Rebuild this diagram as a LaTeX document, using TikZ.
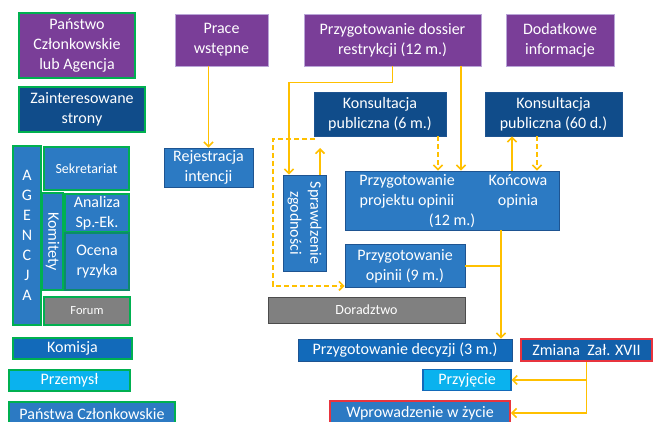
\documentclass[tikz,border=0pt]{standalone}
\usepackage{fontspec}
\setmainfont{Carlito}
\usetikzlibrary{arrows.meta}
\definecolor{purp}{RGB}{122,62,152}
\definecolor{purpb}{RGB}{185,165,215}
\definecolor{navy}{RGB}{16,76,138}
\definecolor{midb}{RGB}{44,122,195}
\definecolor{midbb}{RGB}{30,84,145}
\definecolor{komb}{RGB}{18,106,186}
\definecolor{cyanb}{RGB}{10,178,238}
\definecolor{grayb}{RGB}{128,128,128}
\definecolor{grn}{RGB}{0,176,80}
\definecolor{redb}{RGB}{232,52,62}
\definecolor{orng}{RGB}{255,192,0}
\definecolor{zmb}{RGB}{18,96,170}
\begin{document}
\begin{tikzpicture}[x=1pt,y=-1pt,
  box/.style={draw, rectangle, inner sep=0pt, text=white, align=center,
    font=\fontsize{16}{20}\selectfont},
  purpbox/.style={box, fill=purp, draw=purpb, line width=0.8pt},
  navybox/.style={box, fill=navy, draw=midbb, line width=0.8pt},
  midbox/.style={box, fill=midb, draw=midbb, line width=0.8pt},
  graybox/.style={box, fill=grayb, draw=gray!60!black, line width=0.8pt},
  greenb/.style={draw=grn, line width=1.8pt},
  redbord/.style={draw=redb, line width=1.8pt},
  txt/.style={inner sep=0pt, text=white, align=center, font=\fontsize{16}{20}\selectfont},
  conn/.style={draw=orng, line width=1.6pt},
  arrw/.style={-{Straight Barb[length=4.5pt,width=9pt]}},
  dsh/.style={dash pattern=on 5pt off 3pt}
]
\useasboundingbox (0,0) rectangle (653,422);
\clip (0,0) rectangle (653,422);
\fill[white] (0,0) rectangle (653,422);

% left column
\node[purpbox, greenb, minimum width=116pt, minimum height=65pt] (pcl) at (77,45.5) {Państwo\\Członkowskie\\lub Agencja};
\node[navybox, greenb, minimum width=126pt, minimum height=45pt] (zs) at (82,109.5) {Zainteresowane\\strony};
\node[midbox, greenb, minimum width=28pt, minimum height=179pt] (agencja) at (27,235.5) {A\\G\\E\\N\\C\\J\\A};
\node[midbox, greenb, minimum width=85pt, minimum height=43pt, font=\fontsize{14}{17}\selectfont] (sekr) at (86.5,168.5) {Sekretariat};
\node[midbox, greenb, minimum width=21pt, minimum height=97pt] (komit) at (52.5,241.5) {};
\node[txt, rotate=-90] (komittxt) at (komit.center) {Komitety};
\node[midbox, greenb, minimum width=64pt, minimum height=38pt] (analiza) at (97,213) {Analiza\\Sp.-Ek.};
\node[midbox, draw=grn!60!midbb, line width=1.2pt, minimum width=64pt, minimum height=57pt] (ocena) at (97,261.5) {Ocena\\ryzyka};
\node[graybox, greenb, minimum width=86pt, minimum height=28pt, font=\fontsize{12.5}{15}\selectfont] (forum) at (87,311) {Forum};
\node[box, fill=komb, greenb, minimum width=119pt, minimum height=21pt] (komisja) at (72.5,348.5) {Komisja};
\node[box, fill=cyanb, greenb, minimum width=121pt, minimum height=21pt] (przemysl) at (69.5,380.5) {Przemysł};
\node[midbox, greenb, minimum width=166pt, minimum height=24pt] (pc) at (92,414) {Państwa Członkowskie};

% top row
\node[purpbox, minimum width=93pt, minimum height=52pt] (prace) at (221.5,40) {Prace\\wstępne};
\node[purpbox, minimum width=177pt, minimum height=52pt] (dossier) at (392.5,40) {Przygotowanie dossier\\restrykcji (12 m.)};
\node[purpbox, minimum width=108pt, minimum height=52pt] (dodat) at (560,40) {Dodatkowe\\informacje};

% middle
\node[midbox, minimum width=89pt, minimum height=39pt] (rej) at (208.5,167.5) {Rejestracja\\intencji};
\node[navybox, minimum width=132pt, minimum height=44pt] (kons6) at (380,114) {Konsultacja\\publiczna (6 m.)};
\node[navybox, minimum width=137pt, minimum height=44pt] (kons60) at (553.5,114) {Konsultacja\\publiczna (60 d.)};
\node[midbox, minimum width=43pt, minimum height=96pt] (spraw) at (304.5,223) {};
\node[txt, rotate=-90] (sprawtxt) at (spraw.center) {Sprawdzenie\\zgodności};
\node[midbox, minimum width=214pt, minimum height=59pt] (big) at (452,200.5) {};
\node[txt] (bigl) at (407,191) {Przygotowanie\\projektu opinii};
\node[txt] (big12) at (452,221) {(12 m.)};
\node[txt] (bigr) at (518,191) {Końcowa\\opinia};
\node[midbox, minimum width=120pt, minimum height=43pt] (op9) at (405,266) {Przygotowanie\\opinii (9 m.)};
\node[graybox, minimum width=197pt, minimum height=26pt, font=\fontsize{14}{17}\selectfont] (dorad) at (366.5,310) {Doradztwo};

% bottom
\node[box, fill=komb, draw=midbb, line width=0.8pt, minimum width=214pt, minimum height=22pt] (decyz) at (405,350) {Przygotowanie decyzji (3 m.)};
\node[box, fill=zmb, redbord, minimum width=131pt, minimum height=22pt] (zmiana) at (586.5,350) {Zmiana~ Zał. XVII};
\node[box, fill=cyanb, draw=komb, line width=1.2pt, minimum width=88pt, minimum height=21pt] (przyj) at (467,380) {Przyjęcie};
\node[midbox, redbord, minimum width=180pt, minimum height=24pt] (wprow) at (420,413) {Wprowadzenie w życie};

% connectors
\draw[conn,arrw] (rej.north |- prace.south) -- (rej.north);
\coordinate (d1) at ([xshift=-15.5pt]spraw.north);
\draw[conn,arrw] (dossier.south) -- ++(0,16) -| (d1);
\coordinate (sprtip) at (320,148);
\draw[conn,arrw] (spraw.north -| sprtip) -- (sprtip);
\coordinate (dst) at (315,139);
\coordinate (dcorner) at (273,139);
\draw[conn,dsh,arrw] (dst) -- (dcorner) |- ([yshift=2pt]op9.south west);
\draw[conn,dsh,arrw] ([xshift=58pt]kons6.south) -- ([xshift=58pt]kons6.south |- big.north);
\draw[conn,arrw] ([xshift=68.5pt]dossier.south) -- ([xshift=68.5pt]dossier.south |- big.north);
\draw[conn,arrw] ([xshift=-41.5pt]kons60.south |- big.north) -- ([xshift=-41.5pt]kons60.south);
\draw[conn,dsh,arrw] ([xshift=-16.5pt]kons60.south) -- ([xshift=-16.5pt]kons60.south |- big.north);
\coordinate (j1) at ([xshift=49pt]big.south);
\draw[conn,arrw] (j1) -- (j1 |- decyz.north);
\draw[conn] (op9.east) -- (op9.east -| j1);
\draw[conn,arrw] (zmiana.south) |- (wprow.east);
\draw[conn,arrw] (zmiana.south |- przyj.east) -- (przyj.east);
\end{tikzpicture}
\end{document}
